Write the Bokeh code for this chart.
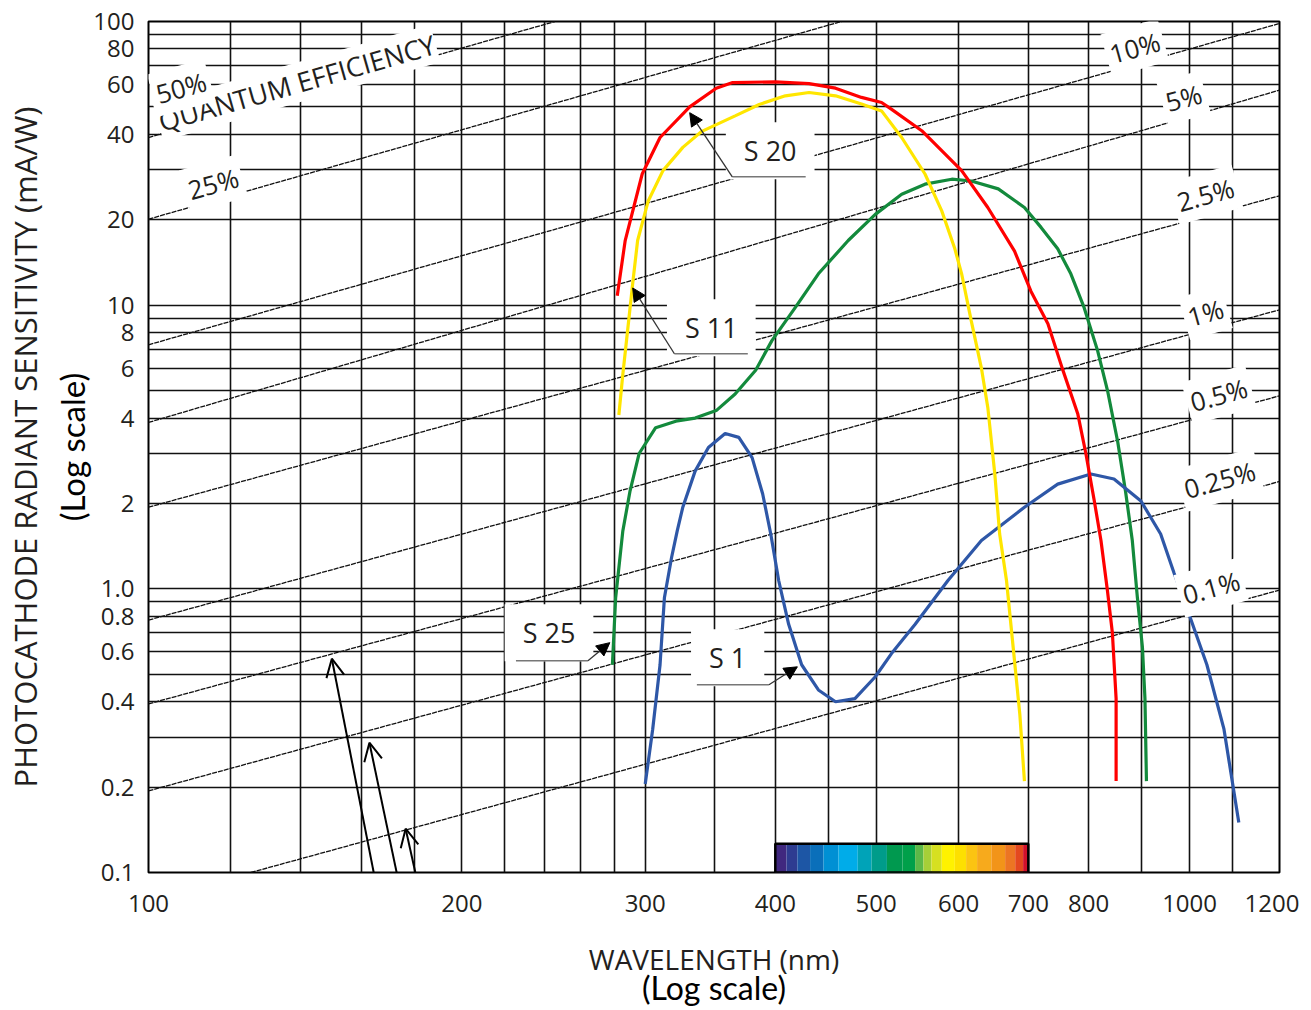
import math
from bokeh.plotting import figure
from bokeh.models import FixedTicker, Label, Arrow, NormalHead, OpenHead, Range1d, LogAxis
from bokeh.embed import file_html
from bokeh.resources import INLINE

# ---------------- axes / grid values ----------------
x_ticks = [100, 200, 300, 400, 500, 600, 700, 800, 1000, 1200]
x_tick_labels = ["100", "200", "300", "400", "500", "600", "700", "800", "1000", "1200"]
y_ticks = [0.1, 0.2, 0.4, 0.6, 0.8, 1, 2, 4, 6, 8, 10, 20, 40, 60, 80, 100]
y_tick_labels = ["0.1", "0.2", "0.4", "0.6", "0.8", "1.0", "2", "4", "6", "8",
                 "10", "20", "40", "60", "80", "100"]
x_grid = [120, 140, 160, 180, 200, 220, 240, 260, 280, 300, 350, 400, 450,
          500, 600, 700, 800, 900, 1000, 1100]
y_grid = [0.2, 0.3, 0.4, 0.5, 0.6, 0.7, 0.8, 0.9, 1, 2, 3, 4, 5, 6, 7, 8, 9,
          10, 20, 30, 40, 50, 60, 70, 80, 90]

# ---------------- spectral response curves (nm, mA/W) ----------------
s20_nm = [282, 287, 298, 310, 331, 351, 364, 400, 431, 457, 484, 506, 517, 553,
          604, 640, 679, 704, 731, 755, 781, 795, 810, 822, 834, 843, 850, 850]
s20_val = [10.8, 16.9, 29, 39, 50, 58.2, 60.9, 61.3, 60.4, 58.2, 54, 51.8, 49.1,
           41.2, 29.8, 22.1, 15.5, 11.2, 8.6, 5.95, 4.13, 3.0, 2.04, 1.48, 0.98,
           0.70, 0.41, 0.21]

s11_nm = [283, 285.5, 289, 292, 295, 302, 312, 326, 340, 366, 386, 409, 431, 457,
          484, 506, 529, 557, 578, 595, 604, 617, 631, 640, 650, 657, 667, 677,
          687, 694]
s11_val = [4.1, 5.7, 8.6, 12.2, 16.9, 23.3, 29.8, 36, 41, 46.5, 51, 54.7, 56.2,
           54.7, 51.2, 48.4, 39, 29, 21.5, 15.8, 12.9, 8.8, 6.0, 4.36, 2.54, 1.56,
           1.07, 0.62, 0.36, 0.21]

s25_nm = [279, 281, 285.5, 290, 296, 307, 321, 335, 351, 366, 383, 397, 418, 440,
          470, 499, 529, 557, 591, 617, 655, 694, 720, 747, 769, 792, 816, 834,
          853, 868, 881, 891, 901, 906, 909]
s25_val = [0.54, 0.93, 1.6, 2.2, 3.0, 3.7, 3.9, 4.0, 4.25, 4.86, 5.9, 7.5, 9.8,
           12.9, 16.9, 20.9, 24.6, 26.7, 27.8, 27.4, 25.7, 22.1, 18.8, 15.8, 12.9,
           9.8, 6.9, 5.0, 3.3, 2.2, 1.48, 0.93, 0.62, 0.41, 0.21]

s1_nm = [300, 305, 310, 313, 318, 322, 326, 335, 345, 358, 369, 380, 389, 396,
         403, 412, 424, 440, 457, 477, 499, 517, 545, 586, 631, 694, 747, 804,
         846, 898, 938, 966, 998, 1039, 1079, 1115]
s1_val = [0.205, 0.32, 0.54, 0.93, 1.29, 1.6, 1.94, 2.6, 3.15, 3.53, 3.42, 2.9,
          2.16, 1.56, 1.07, 0.75, 0.54, 0.44, 0.40, 0.41, 0.49, 0.59, 0.75, 1.07,
          1.48, 1.94, 2.34, 2.54, 2.44, 2.04, 1.56, 1.14, 0.82, 0.54, 0.32, 0.15]

# ---------------- quantum-efficiency guide lines ----------------
qe_labels = ["50%", "25%", "10%", "5%", "2.5%", "1%", "0.5%", "0.25%", "0.1%"]
qe_start_nm = [100, 100, 100, 100, 100, 100, 100, 100, 125.4]
qe_start_val = [39.0, 20.1, 7.25, 3.86, 1.94, 0.776, 0.393, 0.194, 0.1]
qe_end_nm = [245.7, 463, 1220, 1220, 1220, 1220, 1220, 1220, 1220]
qe_end_val = [100, 100, 98.4, 57.3, 24.3, 9.63, 4.79, 2.39, 0.99]

# ---------------- visible spectrum bar ----------------
spectrum_edges = [400, 410, 420, 432, 445, 460, 480, 495, 512, 530, 545, 555, 565,
                  578, 595, 610, 625, 645, 665, 680, 692, 700]
spectrum_colors = ["#40287f", "#2e3c91", "#1d56a5", "#0a6fba", "#0090d4", "#00ace9",
                   "#00a3b8", "#009c8a", "#00994f", "#00a04a", "#5cb848", "#a6cf38",
                   "#d6e021", "#fff200", "#fde000", "#fbc412", "#f7aa1c", "#f29419",
                   "#ec7523", "#e4481f", "#d1112b"]
spectrum_top = 0.1263

# ---------------- figure ----------------
TXT = "#231f20"
p = figure(width=1303, height=1010, x_axis_type="log", y_axis_type="log",
           x_range=Range1d(100, 1220), y_range=Range1d(0.1, 100),
           output_backend="svg", toolbar_location=None,
           min_border_left=144, min_border_right=24, min_border_top=21,
           min_border_bottom=138)
p.background_fill_color = "white"
p.border_fill_color = "white"
p.outline_line_color = "black"
p.outline_line_width = 2
p.outline_line_alpha = 1


def style_axis(ax, standoff):
    ax.axis_line_color = None
    ax.major_tick_line_color = None
    ax.minor_tick_line_color = None
    ax.major_tick_in = 0
    ax.major_tick_out = 0
    ax.minor_tick_in = 0
    ax.minor_tick_out = 0
    ax.major_label_standoff = standoff
    ax.major_label_text_font = "Open Sans"
    ax.major_label_text_font_size = "24px"
    ax.major_label_text_color = TXT
    ax.axis_label_text_font_style = "normal"


for ax, ticks, labels, standoff in ((p.xaxis, x_ticks, x_tick_labels, 22),
                                    (p.yaxis, y_ticks, y_tick_labels, 14)):
    ax.ticker = FixedTicker(ticks=ticks)
    ax.major_label_overrides = dict(zip(ticks, labels))
    style_axis(ax, standoff)

# inner axis titles
p.yaxis.axis_label = "(Log scale)"
p.yaxis.axis_label_text_font = "Lato"
p.yaxis.axis_label_text_font_size = "33px"
p.yaxis.axis_label_text_color = "black"
p.yaxis.axis_label_standoff = -2

p.xaxis.axis_label = "WAVELENGTH (nm)"
p.xaxis.axis_label_text_font = "Open Sans"
p.xaxis.axis_label_text_font_size = "28px"
p.xaxis.axis_label_text_color = TXT
p.xaxis.axis_label_standoff = 25

# outer axis titles (axes without ticks)
y_title_axis = LogAxis(ticker=FixedTicker(ticks=[]),
                       axis_label="PHOTOCATHODE RADIANT SENSITIVITY (mA/W)")
style_axis(y_title_axis, 0)
y_title_axis.axis_label_text_font = "Open Sans"
y_title_axis.axis_label_text_font_size = "31px"
y_title_axis.axis_label_text_color = TXT
y_title_axis.axis_label_standoff = 4
p.add_layout(y_title_axis, "left")

x_title_axis = LogAxis(ticker=FixedTicker(ticks=[]), axis_label="(Log scale)")
style_axis(x_title_axis, 0)
x_title_axis.axis_label_text_font = "Lato"
x_title_axis.axis_label_text_font_size = "32px"
x_title_axis.axis_label_text_color = "black"
x_title_axis.axis_label_standoff = -13
p.add_layout(x_title_axis, "below")

p.xgrid.ticker = FixedTicker(ticks=x_grid)
p.ygrid.ticker = FixedTicker(ticks=y_grid)
p.grid.grid_line_color = "#111111"
p.grid.grid_line_width = 1.6
p.grid.grid_line_alpha = 1

# QE guide lines
p.segment(x0=qe_start_nm, y0=qe_start_val, x1=qe_end_nm, y1=qe_end_val,
          line_color="#111111", line_width=1.3, line_dash="5 1")

# spectrum bar
p.quad(left=spectrum_edges[:-1], right=spectrum_edges[1:], bottom=0.1,
       top=spectrum_top, fill_color=spectrum_colors, line_color=None)
p.quad(left=[spectrum_edges[0]], right=[spectrum_edges[-1]], bottom=[0.1],
       top=[spectrum_top], fill_color=None, line_color="black", line_width=2.5)

# curves
p.line(s25_nm, s25_val, line_color="#138a3c", line_width=3.2)
p.line(s1_nm, s1_val, line_color="#2e57a7", line_width=3.2)
p.line(s11_nm, s11_val, line_color="#ffe600", line_width=3.2)
p.line(s20_nm, s20_val, line_color="#ff0000", line_width=3.2)

# QE labels (rotated along the lines)
ang = math.radians(15.5)
p.add_layout(Label(x=138.8, y=60.8, text="QUANTUM EFFICIENCY", angle=math.radians(15.9),
                   text_align="center", text_baseline="middle", text_font="Open Sans",
                   text_font_size="27px", text_color=TXT,
                   background_fill_color="white", padding=1))
qe_label_pos = [(107.5, 58.4), (115.4, 26.8), (886, 80.8), (987, 53.8),
                (1036, 24.5), (1036, 9.40), (1067, 4.83), (1069, 2.42), (1049, 1.009)]
for txt, (lx, ly) in zip(qe_labels, qe_label_pos):
    p.add_layout(Label(x=lx, y=ly, text=txt, angle=ang, text_align="center",
                       text_baseline="middle", text_font="Open Sans",
                       text_font_size="26px", text_color=TXT,
                       background_fill_color="white", padding=4))

# curve name boxes with leaders
s_labels = [
    ("S 20", (395.5, 35.0), (427.8, 363.7, 28.35), (331.0, 47.7)),
    ("S 11", (347.2, 8.32), (376.4, 320.0, 6.74), (291.8, 11.5)),
    ("S 25", (242.5, 0.700), (225.4, 264.3, 0.558), (277.4, 0.646)),
    ("S 1", (360.0, 0.5716), (336.3, 394.4, 0.459), (420.0, 0.531)),
]
for txt, (lx, ly), _, _ in s_labels:
    p.add_layout(Label(x=lx, y=ly, text=txt, text_align="center", text_baseline="middle",
                       text_font="Open Sans", text_font_size="27px", text_color=TXT,
                       background_fill_color="white", padding=(18, 10)))
for txt, _, (hx0, hx1, hy), (tx, ty) in s_labels:
    p.add_layout(Arrow(end=None, x_start=hx0, y_start=hy, x_end=hx1, y_end=hy,
                       line_color="#777777", line_width=1.4))
    p.add_layout(Arrow(end=NormalHead(size=13, fill_color="black", line_color="black"),
                       x_start=hx1, y_start=hy, x_end=tx, y_end=ty,
                       line_color="#333333", line_width=1.3))

# pointer arrows from below the chart to the QE lines
arrow_tips = [(150.0, 0.567), (163.0, 0.2868), (176.6, 0.1427)]
arrow_tails = [(174.1, 0.0348), (183.9, 0.0348), (192.3, 0.0348)]
for (tx, ty), (sx, sy) in zip(arrow_tips, arrow_tails):
    p.add_layout(Arrow(end=OpenHead(size=18, line_width=2, line_color="black"),
                       x_start=sx, y_start=sy, x_end=tx, y_end=ty,
                       line_color="black", line_width=2))

open("out.html", "w").write(file_html(p, INLINE))
